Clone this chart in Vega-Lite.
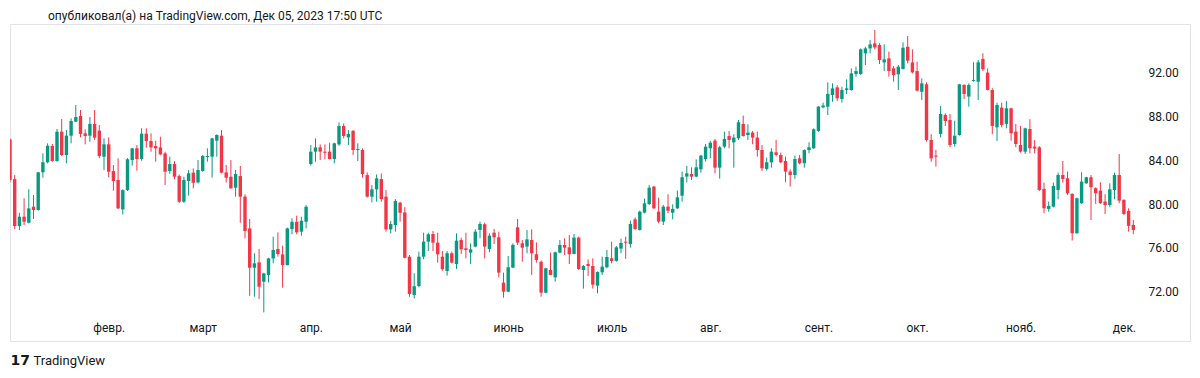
{
"$schema": "https://vega.github.io/schema/vega-lite/v6.json",
"width": 1180, "height": 317,
"autosize": {"type": "none"},
"padding": {"left": 10, "top": 24, "right": 10, "bottom": 37},
"background": "#ffffff",
"title": {"text": "опубликовал(а) на TradingView.com, Дек 05, 2023 17:50 UTC", "anchor": "start", "frame": "group", "dx": 38, "offset": -11, "font": "Roboto", "fontSize": 12, "fontWeight": "normal", "color": "#131722", "baseline": "bottom"},
"config": {"view": {"stroke": "#e0e3eb", "strokeWidth": 1}, "axis": {"grid": false, "domain": false, "ticks": false, "labelFont": "Roboto", "labelFontSize": 12, "labelColor": "#131722"}},
"data": {"values": [
{"date":"2023-01-03","open":85.9,"high":86.0,"low":82.0,"close":82.2},
{"date":"2023-01-04","open":82.28,"high":82.65,"low":77.7,"close":78.0},
{"date":"2023-01-05","open":78.0,"high":79.2,"low":77.63,"close":78.85},
{"date":"2023-01-06","open":78.85,"high":80.53,"low":78.09,"close":78.39},
{"date":"2023-01-09","open":78.3,"high":81.35,"low":78.24,"close":79.61},
{"date":"2023-01-10","open":79.76,"high":80.83,"low":78.64,"close":79.46},
{"date":"2023-01-11","open":79.46,"high":82.95,"low":79.4,"close":82.9},
{"date":"2023-01-12","open":82.9,"high":84.64,"low":82.41,"close":83.82},
{"date":"2023-01-13","open":83.82,"high":85.55,"low":83.72,"close":85.33},
{"date":"2023-01-16","open":85.31,"high":85.49,"low":83.87,"close":83.94},
{"date":"2023-01-17","open":83.94,"high":86.86,"low":83.87,"close":86.61},
{"date":"2023-01-18","open":86.61,"high":87.77,"low":84.39,"close":84.48},
{"date":"2023-01-19","open":84.48,"high":86.77,"low":83.72,"close":86.25},
{"date":"2023-01-20","open":86.25,"high":87.83,"low":85.55,"close":87.59},
{"date":"2023-01-23","open":87.53,"high":89.05,"low":87.5,"close":87.95},
{"date":"2023-01-24","open":88.05,"high":88.59,"low":86.1,"close":86.41},
{"date":"2023-01-25","open":86.46,"high":86.83,"low":85.46,"close":86.22},
{"date":"2023-01-26","open":86.25,"high":87.95,"low":85.7,"close":87.32},
{"date":"2023-01-27","open":87.32,"high":88.59,"low":85.85,"close":86.07},
{"date":"2023-01-30","open":86.71,"high":87.22,"low":84.18,"close":84.39},
{"date":"2023-01-31","open":84.33,"high":86.01,"low":83.11,"close":85.46},
{"date":"2023-02-01","open":85.46,"high":86.1,"low":82.45,"close":82.96},
{"date":"2023-02-02","open":83.02,"high":83.57,"low":81.22,"close":82.11},
{"date":"2023-02-03","open":82.2,"high":84.18,"low":79.55,"close":79.61},
{"date":"2023-02-06","open":79.52,"high":81.34,"low":79.06,"close":81.28},
{"date":"2023-02-07","open":81.28,"high":84.2,"low":81.2,"close":84.09},
{"date":"2023-02-08","open":84.02,"high":85.12,"low":83.51,"close":85.09},
{"date":"2023-02-09","open":85.09,"high":85.39,"low":83.05,"close":84.12},
{"date":"2023-02-10","open":84.12,"high":86.92,"low":83.96,"close":86.43},
{"date":"2023-02-13","open":86.43,"high":86.92,"low":85.15,"close":85.76},
{"date":"2023-02-14","open":85.76,"high":86.46,"low":84.78,"close":85.18},
{"date":"2023-02-15","open":85.3,"high":85.79,"low":83.87,"close":85.09},
{"date":"2023-02-16","open":85.18,"high":86.16,"low":84.48,"close":84.54},
{"date":"2023-02-17","open":84.63,"high":84.78,"low":81.74,"close":82.96},
{"date":"2023-02-20","open":83.02,"high":84.33,"low":82.75,"close":83.66},
{"date":"2023-02-21","open":83.66,"high":83.93,"low":82.26,"close":82.5},
{"date":"2023-02-22","open":82.56,"high":82.7,"low":80.1,"close":80.22},
{"date":"2023-02-23","open":80.22,"high":82.5,"low":80.1,"close":82.2},
{"date":"2023-02-24","open":82.11,"high":83.11,"low":80.77,"close":82.81},
{"date":"2023-02-27","open":82.87,"high":83.26,"low":81.44,"close":81.95},
{"date":"2023-02-28","open":81.98,"high":84.02,"low":81.89,"close":83.11},
{"date":"2023-03-01","open":83.02,"high":84.48,"low":82.96,"close":84.39},
{"date":"2023-03-02","open":84.3,"high":85.09,"low":83.87,"close":84.39},
{"date":"2023-03-03","open":84.33,"high":86.05,"low":82.41,"close":86.0},
{"date":"2023-03-06","open":85.79,"high":86.37,"low":84.33,"close":86.31},
{"date":"2023-03-07","open":86.25,"high":86.76,"low":82.8,"close":82.87},
{"date":"2023-03-08","open":82.9,"high":83.57,"low":81.98,"close":82.41},
{"date":"2023-03-09","open":82.5,"high":84.02,"low":81.4,"close":81.44},
{"date":"2023-03-10","open":81.5,"high":83.11,"low":80.68,"close":82.75},
{"date":"2023-03-13","open":82.56,"high":83.48,"low":78.3,"close":80.68},
{"date":"2023-03-14","open":80.68,"high":80.89,"low":76.87,"close":77.54},
{"date":"2023-03-15","open":77.78,"high":78.64,"low":71.63,"close":74.19},
{"date":"2023-03-16","open":74.19,"high":75.5,"low":71.54,"close":74.59},
{"date":"2023-03-17","open":74.68,"high":75.9,"low":71.33,"close":72.46},
{"date":"2023-03-20","open":72.91,"high":73.73,"low":70.11,"close":73.67},
{"date":"2023-03-21","open":73.52,"high":75.1,"low":72.85,"close":75.04},
{"date":"2023-03-22","open":75.04,"high":77.02,"low":74.59,"close":75.81},
{"date":"2023-03-23","open":75.9,"high":77.42,"low":75.2,"close":75.44},
{"date":"2023-03-24","open":75.41,"high":76.2,"low":72.37,"close":74.43},
{"date":"2023-03-27","open":74.43,"high":77.85,"low":74.4,"close":77.78},
{"date":"2023-03-28","open":77.72,"high":78.7,"low":77.24,"close":78.39},
{"date":"2023-03-29","open":78.39,"high":78.94,"low":77.24,"close":77.42},
{"date":"2023-03-30","open":77.48,"high":78.85,"low":77.11,"close":78.48},
{"date":"2023-03-31","open":78.39,"high":79.91,"low":77.78,"close":79.76},
{"date":"2023-04-03","open":83.66,"high":85.39,"low":83.51,"close":84.79},
{"date":"2023-04-04","open":84.79,"high":86.0,"low":83.87,"close":85.18},
{"date":"2023-04-05","open":85.18,"high":85.45,"low":84.02,"close":84.79},
{"date":"2023-04-06","open":84.79,"high":85.45,"low":84.09,"close":84.69},
{"date":"2023-04-10","open":84.79,"high":85.61,"low":84.09,"close":84.12},
{"date":"2023-04-11","open":84.12,"high":85.61,"low":83.72,"close":85.55},
{"date":"2023-04-12","open":85.45,"high":87.46,"low":85.33,"close":87.13},
{"date":"2023-04-13","open":87.13,"high":87.37,"low":86.0,"close":86.22},
{"date":"2023-04-14","open":86.09,"high":86.76,"low":85.39,"close":86.4},
{"date":"2023-04-17","open":86.7,"high":86.75,"low":84.48,"close":84.94},
{"date":"2023-04-18","open":84.94,"high":85.55,"low":83.93,"close":85.03},
{"date":"2023-04-19","open":84.94,"high":85.09,"low":82.41,"close":82.75},
{"date":"2023-04-20","open":82.65,"high":82.9,"low":80.6,"close":80.68},
{"date":"2023-04-21","open":80.68,"high":81.74,"low":80.16,"close":81.35},
{"date":"2023-04-24","open":81.35,"high":82.71,"low":80.22,"close":82.35},
{"date":"2023-04-25","open":82.29,"high":82.81,"low":80.22,"close":80.46},
{"date":"2023-04-26","open":80.68,"high":81.28,"low":77.48,"close":77.69},
{"date":"2023-04-27","open":77.69,"high":78.45,"low":77.33,"close":78.18},
{"date":"2023-04-28","open":78.09,"high":80.46,"low":77.48,"close":80.28},
{"date":"2023-05-01","open":80.13,"high":80.22,"low":78.39,"close":79.21},
{"date":"2023-05-02","open":79.24,"high":79.73,"low":75.05,"close":75.1},
{"date":"2023-05-03","open":75.2,"high":75.35,"low":71.54,"close":71.79},
{"date":"2023-05-04","open":71.7,"high":73.68,"low":71.38,"close":72.5},
{"date":"2023-05-05","open":72.52,"high":75.66,"low":72.4,"close":75.2},
{"date":"2023-05-08","open":75.2,"high":77.39,"low":74.96,"close":76.57},
{"date":"2023-05-09","open":76.57,"high":77.39,"low":75.72,"close":77.24},
{"date":"2023-05-10","open":77.27,"high":77.55,"low":75.72,"close":76.48},
{"date":"2023-05-11","open":76.48,"high":77.39,"low":74.65,"close":75.42},
{"date":"2023-05-12","open":75.2,"high":75.72,"low":73.92,"close":74.05},
{"date":"2023-05-15","open":73.89,"high":75.72,"low":73.47,"close":75.51},
{"date":"2023-05-16","open":75.51,"high":75.66,"low":74.59,"close":74.65},
{"date":"2023-05-17","open":74.53,"high":77.33,"low":74.08,"close":76.66},
{"date":"2023-05-18","open":76.72,"high":76.94,"low":75.45,"close":75.87},
{"date":"2023-05-19","open":75.96,"high":77.39,"low":75.05,"close":75.81},
{"date":"2023-05-22","open":75.57,"high":76.42,"low":74.53,"close":75.87},
{"date":"2023-05-23","open":76.12,"high":77.7,"low":76.05,"close":77.48},
{"date":"2023-05-24","open":77.64,"high":78.4,"low":76.88,"close":78.19},
{"date":"2023-05-25","open":78.16,"high":78.31,"low":75.05,"close":76.12},
{"date":"2023-05-26","open":75.9,"high":77.33,"low":75.6,"close":77.12},
{"date":"2023-05-29","open":77.39,"high":77.73,"low":76.36,"close":76.97},
{"date":"2023-05-30","open":76.97,"high":77.48,"low":73.31,"close":73.74},
{"date":"2023-05-31","open":72.83,"high":73.74,"low":71.46,"close":72.0},
{"date":"2023-06-01","open":72.0,"high":75.26,"low":71.95,"close":74.23},
{"date":"2023-06-02","open":74.2,"high":76.42,"low":74.15,"close":76.27},
{"date":"2023-06-05","open":77.88,"high":78.64,"low":76.27,"close":76.48},
{"date":"2023-06-06","open":76.42,"high":76.72,"low":74.74,"close":76.02},
{"date":"2023-06-07","open":76.12,"high":77.64,"low":75.51,"close":76.78},
{"date":"2023-06-08","open":76.72,"high":77.7,"low":73.53,"close":75.51},
{"date":"2023-06-09","open":75.42,"high":76.51,"low":74.65,"close":74.9},
{"date":"2023-06-12","open":74.74,"high":74.84,"low":71.55,"close":71.91},
{"date":"2023-06-13","open":71.91,"high":74.2,"low":71.85,"close":74.14},
{"date":"2023-06-14","open":73.98,"high":75.57,"low":73.5,"close":73.53},
{"date":"2023-06-15","open":73.31,"high":75.66,"low":72.92,"close":75.6},
{"date":"2023-06-16","open":75.57,"high":76.72,"low":75.51,"close":76.27},
{"date":"2023-06-19","open":76.27,"high":76.88,"low":75.35,"close":76.02},
{"date":"2023-06-20","open":76.05,"high":77.18,"low":74.53,"close":75.42},
{"date":"2023-06-21","open":75.45,"high":77.27,"low":75.42,"close":76.94},
{"date":"2023-06-22","open":76.94,"high":77.03,"low":73.98,"close":74.08},
{"date":"2023-06-23","open":73.98,"high":74.44,"low":72.28,"close":74.35},
{"date":"2023-06-26","open":74.53,"high":74.96,"low":73.44,"close":74.35},
{"date":"2023-06-27","open":74.35,"high":75.05,"low":72.28,"close":72.64},
{"date":"2023-06-28","open":72.55,"high":73.85,"low":71.85,"close":73.8},
{"date":"2023-06-29","open":73.77,"high":75.2,"low":73.53,"close":74.29},
{"date":"2023-06-30","open":74.23,"high":75.81,"low":74.14,"close":75.17},
{"date":"2023-07-03","open":75.05,"high":76.57,"low":74.59,"close":74.81},
{"date":"2023-07-04","open":74.81,"high":76.18,"low":74.74,"close":76.05},
{"date":"2023-07-05","open":75.93,"high":76.85,"low":75.5,"close":76.45},
{"date":"2023-07-06","open":76.57,"high":77.03,"low":74.99,"close":76.48},
{"date":"2023-07-07","open":76.36,"high":78.49,"low":76.03,"close":78.19},
{"date":"2023-07-10","open":78.61,"high":78.79,"low":77.64,"close":77.73},
{"date":"2023-07-11","open":77.64,"high":79.4,"low":77.58,"close":79.31},
{"date":"2023-07-12","open":79.22,"high":80.5,"low":79.16,"close":80.07},
{"date":"2023-07-13","open":80.01,"high":81.75,"low":79.92,"close":81.5},
{"date":"2023-07-14","open":81.6,"high":81.66,"low":79.53,"close":79.62},
{"date":"2023-07-17","open":79.31,"high":80.59,"low":78.25,"close":78.4},
{"date":"2023-07-18","open":78.4,"high":79.92,"low":78.09,"close":79.77},
{"date":"2023-07-19","open":79.77,"high":80.9,"low":79.16,"close":79.4},
{"date":"2023-07-20","open":79.22,"high":79.98,"low":78.61,"close":79.56},
{"date":"2023-07-21","open":79.62,"high":81.23,"low":79.55,"close":80.62},
{"date":"2023-07-24","open":80.77,"high":82.96,"low":80.23,"close":82.45},
{"date":"2023-07-25","open":82.51,"high":83.48,"low":81.99,"close":82.81},
{"date":"2023-07-26","open":82.75,"high":83.36,"low":82.2,"close":82.51},
{"date":"2023-07-27","open":82.51,"high":84.09,"low":82.45,"close":83.36},
{"date":"2023-07-28","open":83.18,"high":84.49,"low":82.87,"close":84.43},
{"date":"2023-07-31","open":84.12,"high":85.49,"low":83.88,"close":85.25},
{"date":"2023-08-01","open":85.1,"high":85.77,"low":84.18,"close":85.61},
{"date":"2023-08-02","open":85.8,"high":85.95,"low":82.81,"close":83.33},
{"date":"2023-08-03","open":83.33,"high":85.31,"low":82.33,"close":85.19},
{"date":"2023-08-04","open":85.25,"high":86.62,"low":85.1,"close":85.95},
{"date":"2023-08-07","open":86.22,"high":86.68,"low":85.1,"close":85.86},
{"date":"2023-08-08","open":85.64,"high":86.38,"low":83.33,"close":86.07},
{"date":"2023-08-09","open":86.01,"high":87.68,"low":85.86,"close":87.47},
{"date":"2023-08-10","open":87.32,"high":88.08,"low":86.16,"close":86.22},
{"date":"2023-08-11","open":86.31,"high":87.29,"low":85.86,"close":86.53},
{"date":"2023-08-14","open":86.53,"high":86.68,"low":85.46,"close":86.07},
{"date":"2023-08-15","open":86.07,"high":86.62,"low":84.34,"close":84.94},
{"date":"2023-08-16","open":84.94,"high":85.4,"low":83.03,"close":83.27},
{"date":"2023-08-17","open":83.21,"high":84.24,"low":83.06,"close":83.82},
{"date":"2023-08-18","open":83.82,"high":85.1,"low":83.33,"close":84.79},
{"date":"2023-08-21","open":84.73,"high":85.86,"low":84.34,"close":84.49},
{"date":"2023-08-22","open":84.49,"high":84.7,"low":83.73,"close":83.82},
{"date":"2023-08-23","open":83.94,"high":84.34,"low":81.99,"close":82.97},
{"date":"2023-08-24","open":82.97,"high":83.18,"low":81.6,"close":82.66},
{"date":"2023-08-25","open":82.66,"high":84.43,"low":82.3,"close":84.12},
{"date":"2023-08-28","open":84.18,"high":84.49,"low":83.64,"close":83.73},
{"date":"2023-08-29","open":83.73,"high":85.0,"low":83.33,"close":84.94},
{"date":"2023-08-30","open":84.94,"high":85.64,"low":84.64,"close":85.19},
{"date":"2023-08-31","open":85.1,"high":86.92,"low":85.04,"close":86.83},
{"date":"2023-09-01","open":86.68,"high":88.95,"low":86.6,"close":88.9},
{"date":"2023-09-04","open":88.84,"high":89.27,"low":88.75,"close":89.0},
{"date":"2023-09-05","open":88.9,"high":91.12,"low":88.14,"close":90.06},
{"date":"2023-09-06","open":89.96,"high":91.03,"low":89.35,"close":90.57},
{"date":"2023-09-07","open":90.66,"high":90.87,"low":89.41,"close":89.66},
{"date":"2023-09-08","open":89.6,"high":90.72,"low":89.26,"close":90.42},
{"date":"2023-09-11","open":90.42,"high":91.39,"low":90.05,"close":90.57},
{"date":"2023-09-12","open":90.42,"high":92.4,"low":90.35,"close":91.94},
{"date":"2023-09-13","open":91.88,"high":92.55,"low":91.63,"close":92.15},
{"date":"2023-09-14","open":91.88,"high":94.22,"low":91.8,"close":94.13},
{"date":"2023-09-15","open":93.77,"high":94.37,"low":92.7,"close":94.22},
{"date":"2023-09-18","open":94.22,"high":94.98,"low":93.77,"close":94.59},
{"date":"2023-09-19","open":94.68,"high":95.9,"low":94.13,"close":94.31},
{"date":"2023-09-20","open":94.53,"high":94.68,"low":92.79,"close":93.16},
{"date":"2023-09-21","open":92.94,"high":94.59,"low":92.15,"close":93.22},
{"date":"2023-09-22","open":93.31,"high":93.92,"low":91.63,"close":92.15},
{"date":"2023-09-25","open":92.4,"high":92.61,"low":91.18,"close":91.79},
{"date":"2023-09-26","open":91.85,"high":92.7,"low":90.42,"close":92.55},
{"date":"2023-09-27","open":92.34,"high":94.77,"low":92.3,"close":94.28},
{"date":"2023-09-28","open":94.37,"high":95.35,"low":92.85,"close":93.1},
{"date":"2023-09-29","open":92.94,"high":94.13,"low":91.94,"close":92.03},
{"date":"2023-10-02","open":92.15,"high":93.0,"low":90.3,"close":90.36},
{"date":"2023-10-03","open":90.26,"high":91.48,"low":89.5,"close":91.03},
{"date":"2023-10-04","open":90.94,"high":91.12,"low":85.7,"close":85.85},
{"date":"2023-10-05","open":85.85,"high":86.38,"low":83.88,"close":84.18},
{"date":"2023-10-06","open":84.43,"high":84.95,"low":83.42,"close":84.34},
{"date":"2023-10-09","open":86.41,"high":88.96,"low":86.1,"close":88.23},
{"date":"2023-10-10","open":88.14,"high":88.29,"low":87.14,"close":87.59},
{"date":"2023-10-11","open":87.68,"high":88.23,"low":85.19,"close":85.4},
{"date":"2023-10-12","open":85.49,"high":87.62,"low":85.25,"close":86.25},
{"date":"2023-10-13","open":86.31,"high":90.98,"low":86.25,"close":90.94},
{"date":"2023-10-16","open":90.88,"high":90.94,"low":89.6,"close":90.06},
{"date":"2023-10-17","open":89.82,"high":91.03,"low":88.9,"close":90.88},
{"date":"2023-10-18","open":91.25,"high":92.95,"low":91.2,"close":91.34},
{"date":"2023-10-19","open":91.18,"high":93.16,"low":89.51,"close":92.95},
{"date":"2023-10-20","open":93.26,"high":93.77,"low":92.16,"close":92.31},
{"date":"2023-10-23","open":92.01,"high":92.4,"low":90.38,"close":90.42},
{"date":"2023-10-24","open":90.42,"high":90.58,"low":86.38,"close":87.14},
{"date":"2023-10-25","open":87.01,"high":89.27,"low":85.77,"close":89.05},
{"date":"2023-10-26","open":88.81,"high":89.27,"low":87.01,"close":87.23},
{"date":"2023-10-27","open":87.32,"high":89.42,"low":86.92,"close":88.75},
{"date":"2023-10-30","open":88.75,"high":88.8,"low":85.8,"close":86.47},
{"date":"2023-10-31","open":86.62,"high":87.32,"low":85.19,"close":85.49},
{"date":"2023-11-01","open":85.4,"high":87.14,"low":84.7,"close":84.79},
{"date":"2023-11-02","open":84.79,"high":86.98,"low":84.58,"close":86.92},
{"date":"2023-11-03","open":86.86,"high":87.75,"low":84.64,"close":85.1},
{"date":"2023-11-06","open":85.25,"high":85.86,"low":84.64,"close":85.07},
{"date":"2023-11-07","open":85.19,"high":85.3,"low":81.2,"close":81.29},
{"date":"2023-11-08","open":81.39,"high":81.96,"low":79.16,"close":79.62},
{"date":"2023-11-09","open":79.56,"high":80.23,"low":79.31,"close":79.83},
{"date":"2023-11-10","open":79.77,"high":81.96,"low":79.7,"close":81.66},
{"date":"2023-11-13","open":81.29,"high":82.88,"low":80.44,"close":82.66},
{"date":"2023-11-14","open":82.66,"high":83.94,"low":81.96,"close":82.3},
{"date":"2023-11-15","open":82.36,"high":82.97,"low":80.84,"close":80.99},
{"date":"2023-11-16","open":80.93,"high":80.99,"low":76.67,"close":77.34},
{"date":"2023-11-17","open":77.34,"high":80.6,"low":77.3,"close":80.53},
{"date":"2023-11-20","open":80.08,"high":82.91,"low":80.02,"close":82.05},
{"date":"2023-11-21","open":81.9,"high":82.5,"low":81.85,"close":82.45},
{"date":"2023-11-22","open":82.45,"high":82.66,"low":78.55,"close":81.54},
{"date":"2023-11-23","open":81.45,"high":81.54,"low":80.02,"close":80.99},
{"date":"2023-11-24","open":81.23,"high":81.99,"low":80.02,"close":80.08},
{"date":"2023-11-27","open":80.23,"high":80.9,"low":79.1,"close":79.92},
{"date":"2023-11-28","open":79.92,"high":81.9,"low":79.71,"close":81.35},
{"date":"2023-11-29","open":81.29,"high":82.88,"low":80.44,"close":82.66},
{"date":"2023-11-30","open":82.66,"high":84.58,"low":80.08,"close":80.32},
{"date":"2023-12-01","open":80.38,"high":80.44,"low":79.01,"close":79.1},
{"date":"2023-12-04","open":79.38,"high":79.62,"low":77.49,"close":78.01},
{"date":"2023-12-05","open":78.1,"high":78.55,"low":77.25,"close":77.64}
]},
"encoding": {
  "x": {"field": "date", "type": "ordinal", "scale": {"type": "point", "padding": 0, "range": [0, 1123.3], "round": false},
        "axis": {"values": ["2023-02-01","2023-03-01","2023-04-03","2023-05-01","2023-06-01","2023-07-03","2023-08-01","2023-09-01","2023-10-02","2023-11-01","2023-12-01"],
                 "labelExpr": "['янв.','февр.','март','апр.','май','июнь','июль','авг.','сент.','окт.','нояб.','дек.'][toNumber(substring(datum.value,5,7))-1]",
                 "offset": -21, "labelAngle": 0, "labelPadding": 2, "labelBaseline": "top", "labelOverlap": false, "labelFlush": false,
                 "title": "TradingView", "titleX": 23, "titleY": 40, "titleAlign": "left", "titleBaseline": "middle", "titleAnchor": null, "titleFont": "Roboto", "titleFontSize": 13, "titleFontWeight": "normal", "titleColor": "#131722"}},
  "color": {"condition": {"test": "datum.close >= datum.open", "value": "#089981"}, "value": "#F23645"}
},
"layer": [
  {"mark": {"type": "rule", "strokeWidth": 1, "clip": true},
   "encoding": {"y": {"field": "low", "type": "quantitative", "scale": {"domain": [67.498, 96.448], "nice": false, "zero": false},
       "axis": {"orient": "right", "offset": -50, "labelPadding": 8, "labelAlign": "left", "values": [72,76,80,84,88,92], "format": ".2f",
                "title": "17", "titleAngle": 0, "titleX": -1130, "titleY": 336, "titleAlign": "left", "titleBaseline": "middle", "titleFont": "DejaVu Sans", "titleFontSize": 14, "titleFontWeight": "bold", "titleColor": "#131722"}},
               "y2": {"field": "high"}}},
  {"mark": {"type": "bar", "size": 3.4, "clip": true},
   "encoding": {"y": {"field": "open", "type": "quantitative"}, "y2": {"field": "close"}}}
]
}
